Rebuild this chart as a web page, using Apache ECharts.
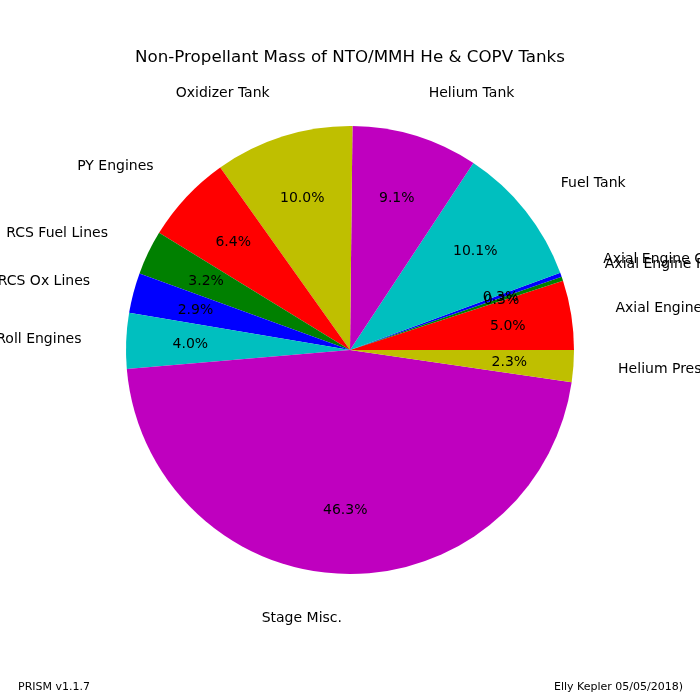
<!DOCTYPE html>
<html>
<head>
<meta charset="utf-8">
<script src="https://cdn.jsdelivr.net/npm/echarts@6/dist/echarts.min.js"></script>
<style>
html,body{margin:0;padding:0;background:#fff;}
#c{width:700px;height:700px;}
</style>
</head>
<body>
<div id="c"></div>
<script>
// Slices in counter-clockwise order starting at 3 o'clock
var categories = ['Axial Engines', 'Axial Engine Fuel Lines', 'Axial Engine Cables', 'Fuel Tank', 'Helium Tank',
  'Oxidizer Tank', 'PY Engines', 'RCS Fuel Lines', 'RCS Ox Lines', 'Roll Engines', 'Stage Misc.', 'Helium Pressurant'];
var percents = [5.0, 0.3, 0.3, 10.1, 9.1, 10.0, 6.4, 3.2, 2.9, 4.0, 46.3, 2.3];
var sliceColors = ['#ff0000', '#008000', '#0000ff', '#00bfbf', '#bf00bf', '#bfbf00',
  '#ff0000', '#008000', '#0000ff', '#00bfbf', '#bf00bf', '#bfbf00'];
var titleText = 'Non-Propellant Mass of NTO/MMH He & COPV Tanks';
var footLeft = 'PRISM v1.1.7';
var footRight = 'Elly Kepler 05/05/2018)';

var FONT = '"DejaVu Sans", sans-serif';
var R = 224;

var mainData = categories.map(function (n, i) {
  return { name: n, value: percents[i], itemStyle: { color: sliceColors[i] } };
});
var pctData = categories.map(function (n, i) {
  return { name: n, value: percents[i] };
});

var chart = echarts.init(document.getElementById('c'), null, { renderer: 'canvas' });
chart.setOption({
  backgroundColor: '#ffffff',
  animation: false,
  title: {
    text: titleText,
    left: 'center',
    top: 44,
    textStyle: { fontFamily: FONT, fontSize: 16.7, fontWeight: 'normal', color: '#000' }
  },
  graphic: [
    { type: 'text', left: 18, top: 682, style: { text: footLeft, font: '11px ' + FONT, fill: '#000' } },
    { type: 'text', right: 17, top: 682, style: { text: footRight, font: '11px ' + FONT, fill: '#000' } }
  ],
  series: [
    {
      type: 'pie',
      center: [350, 350],
      radius: [0, R],
      startAngle: 0,
      clockwise: false,
      avoidLabelOverlap: false,
      silent: true,
      itemStyle: { borderWidth: 0 },
      emphasis: { disabled: true },
      labelLayout: { hideOverlap: false },
      label: {
        show: true,
        position: 'outside',
        formatter: '{b}',
        fontFamily: FONT,
        fontSize: 14,
        color: '#000',
        distanceToLabelLine: 0,
        alignTo: 'none'
      },
      labelLine: { show: false, length: 0.2 * R, length2: 0 },
      data: mainData
    },
    {
      type: 'pie',
      center: [350, 351],
      radius: [0, 1.4 * R],
      startAngle: 0,
      clockwise: false,
      avoidLabelOverlap: false,
      silent: true,
      itemStyle: { color: 'rgba(0,0,0,0)', borderWidth: 0 },
      emphasis: { disabled: true },
      labelLayout: { hideOverlap: false },
      label: {
        show: true,
        position: 'inside',
        formatter: function (p) { return p.value.toFixed(1) + '%'; },
        fontFamily: FONT,
        fontSize: 14,
        color: '#000'
      },
      labelLine: { show: false },
      data: pctData
    }
  ]
});
</script>
</body>
</html>
